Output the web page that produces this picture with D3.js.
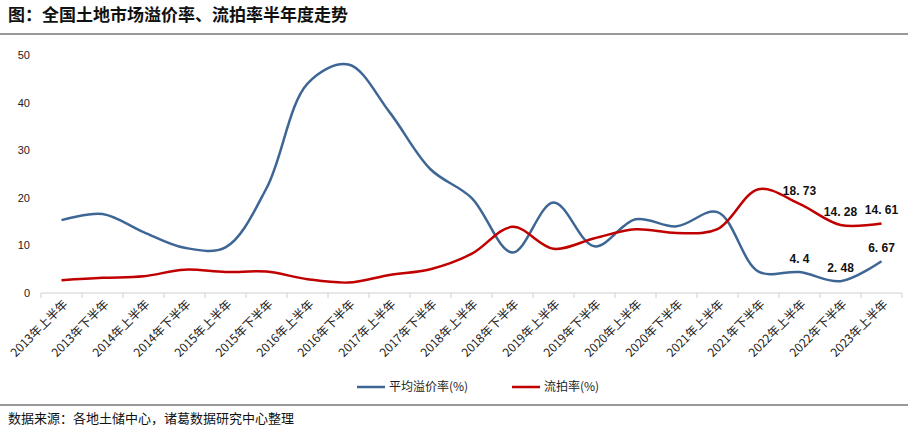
<!DOCTYPE html>
<html><head><meta charset="utf-8">
<script src="https://cdn.jsdelivr.net/npm/d3@7"></script>
<style>body{margin:0;background:#fff;font-family:"Noto Sans CJK SC",sans-serif}</style>
</head><body><svg id="c" width="908" height="431"></svg>
<script>
const periods = ['2013年上半年','2013年下半年','2014年上半年','2014年下半年','2015年上半年','2015年下半年','2016年上半年','2016年下半年','2017年上半年','2017年下半年','2018年上半年','2018年下半年','2019年上半年','2019年下半年','2020年上半年','2020年下半年','2021年上半年','2021年下半年','2022年上半年','2022年下半年','2023年上半年'];
const premium = [15.3,16.6,12.8,9.5,9.6,22,44,48,38,26,20,8.5,19,9.8,15.5,14,17,4.5,4.4,2.48,6.67];
const failRate = [2.7,3.2,3.5,4.9,4.4,4.5,2.9,2.2,3.8,5.0,8.2,13.9,9.3,11.5,13.4,12.6,13.4,21.8,18.73,14.28,14.61];
const yTicks = [0,10,20,30,40,50];
const labelFrom = 18;

const svg = d3.select('#c');
svg.append('text').attr('x',8).attr('y',21).attr('font-size',17).attr('font-weight','bold').attr('fill','#111')
  .text('图：全国土地市场溢价率、流拍率半年度走势');
svg.append('line').attr('x1',0).attr('x2',908).attr('y1',34).attr('y2',34).attr('stroke','#333');
svg.append('line').attr('x1',0).attr('x2',908).attr('y1',405).attr('y2',405).attr('stroke','#333');
svg.append('text').attr('x',8).attr('y',423).attr('font-size',13).attr('fill','#111')
  .text('数据来源：各地土储中心，诸葛数据研究中心整理');

const x = d3.scaleBand().domain(periods).range([41,902]);
const y = d3.scaleLinear().domain([0,50]).range([293,55]);

const g = svg.append('g');
g.selectAll('.yl').data(yTicks).join('text').attr('x',30).attr('y',d=>y(d)+4)
  .attr('text-anchor','end').attr('font-size',11).attr('font-family','Liberation Sans, Arial').attr('fill','#222').text(d=>d);
g.append('line').attr('x1',41).attr('x2',902).attr('y1',y(0)).attr('y2',y(0)).attr('stroke','#d0d0d0');
g.selectAll('.tk').data(d3.range(periods.length+1)).join('line')
  .attr('x1',i=>41+i*x.bandwidth()).attr('x2',i=>41+i*x.bandwidth()).attr('y1',y(0)).attr('y2',y(0)+5).attr('stroke','#d0d0d0');
g.selectAll('.xl').data(periods).join('text')
  .attr('transform',d=>`translate(${x(d)+x.bandwidth()/2+7},${y(0)+12}) rotate(-45)`)
  .attr('text-anchor','end').attr('font-size',12).attr('fill','#222').text(d=>d);

const cx = (d,i)=>x(periods[i])+x.bandwidth()/2;
const line = d3.line().x(cx).y(d=>y(d)).curve(d3.curveCatmullRom.alpha(0.5));
g.append('path').attr('d',line(premium)).attr('fill','none').attr('stroke','#3e6695').attr('stroke-width',2.5);
g.append('path').attr('d',line(failRate)).attr('fill','none').attr('stroke','#c00000').attr('stroke-width',2.5);

const lab = (arr)=>g.selectAll(null).data(arr.slice(labelFrom)).join('text')
  .attr('x',(d,i)=>cx(d,i+labelFrom)).attr('y',d=>y(d)-9).attr('text-anchor','middle')
  .attr('font-size',12).attr('font-weight','bold').attr('font-family','Liberation Sans, Arial').attr('fill','#111')
  .text(d=>d.toString().replace('.', '. '));
lab(premium); lab(failRate);

const leg = [{n:'平均溢价率(%)',c:'#3e6695',x:357},{n:'流拍率(%)',c:'#c00000',x:512}];
leg.forEach(l=>{
  svg.append('line').attr('x1',l.x).attr('x2',l.x+28).attr('y1',387).attr('y2',387).attr('stroke',l.c).attr('stroke-width',2.5);
  svg.append('text').attr('x',l.x+32).attr('y',391).attr('font-size',12).attr('fill','#222').text(l.n);
});
</script></body></html>
